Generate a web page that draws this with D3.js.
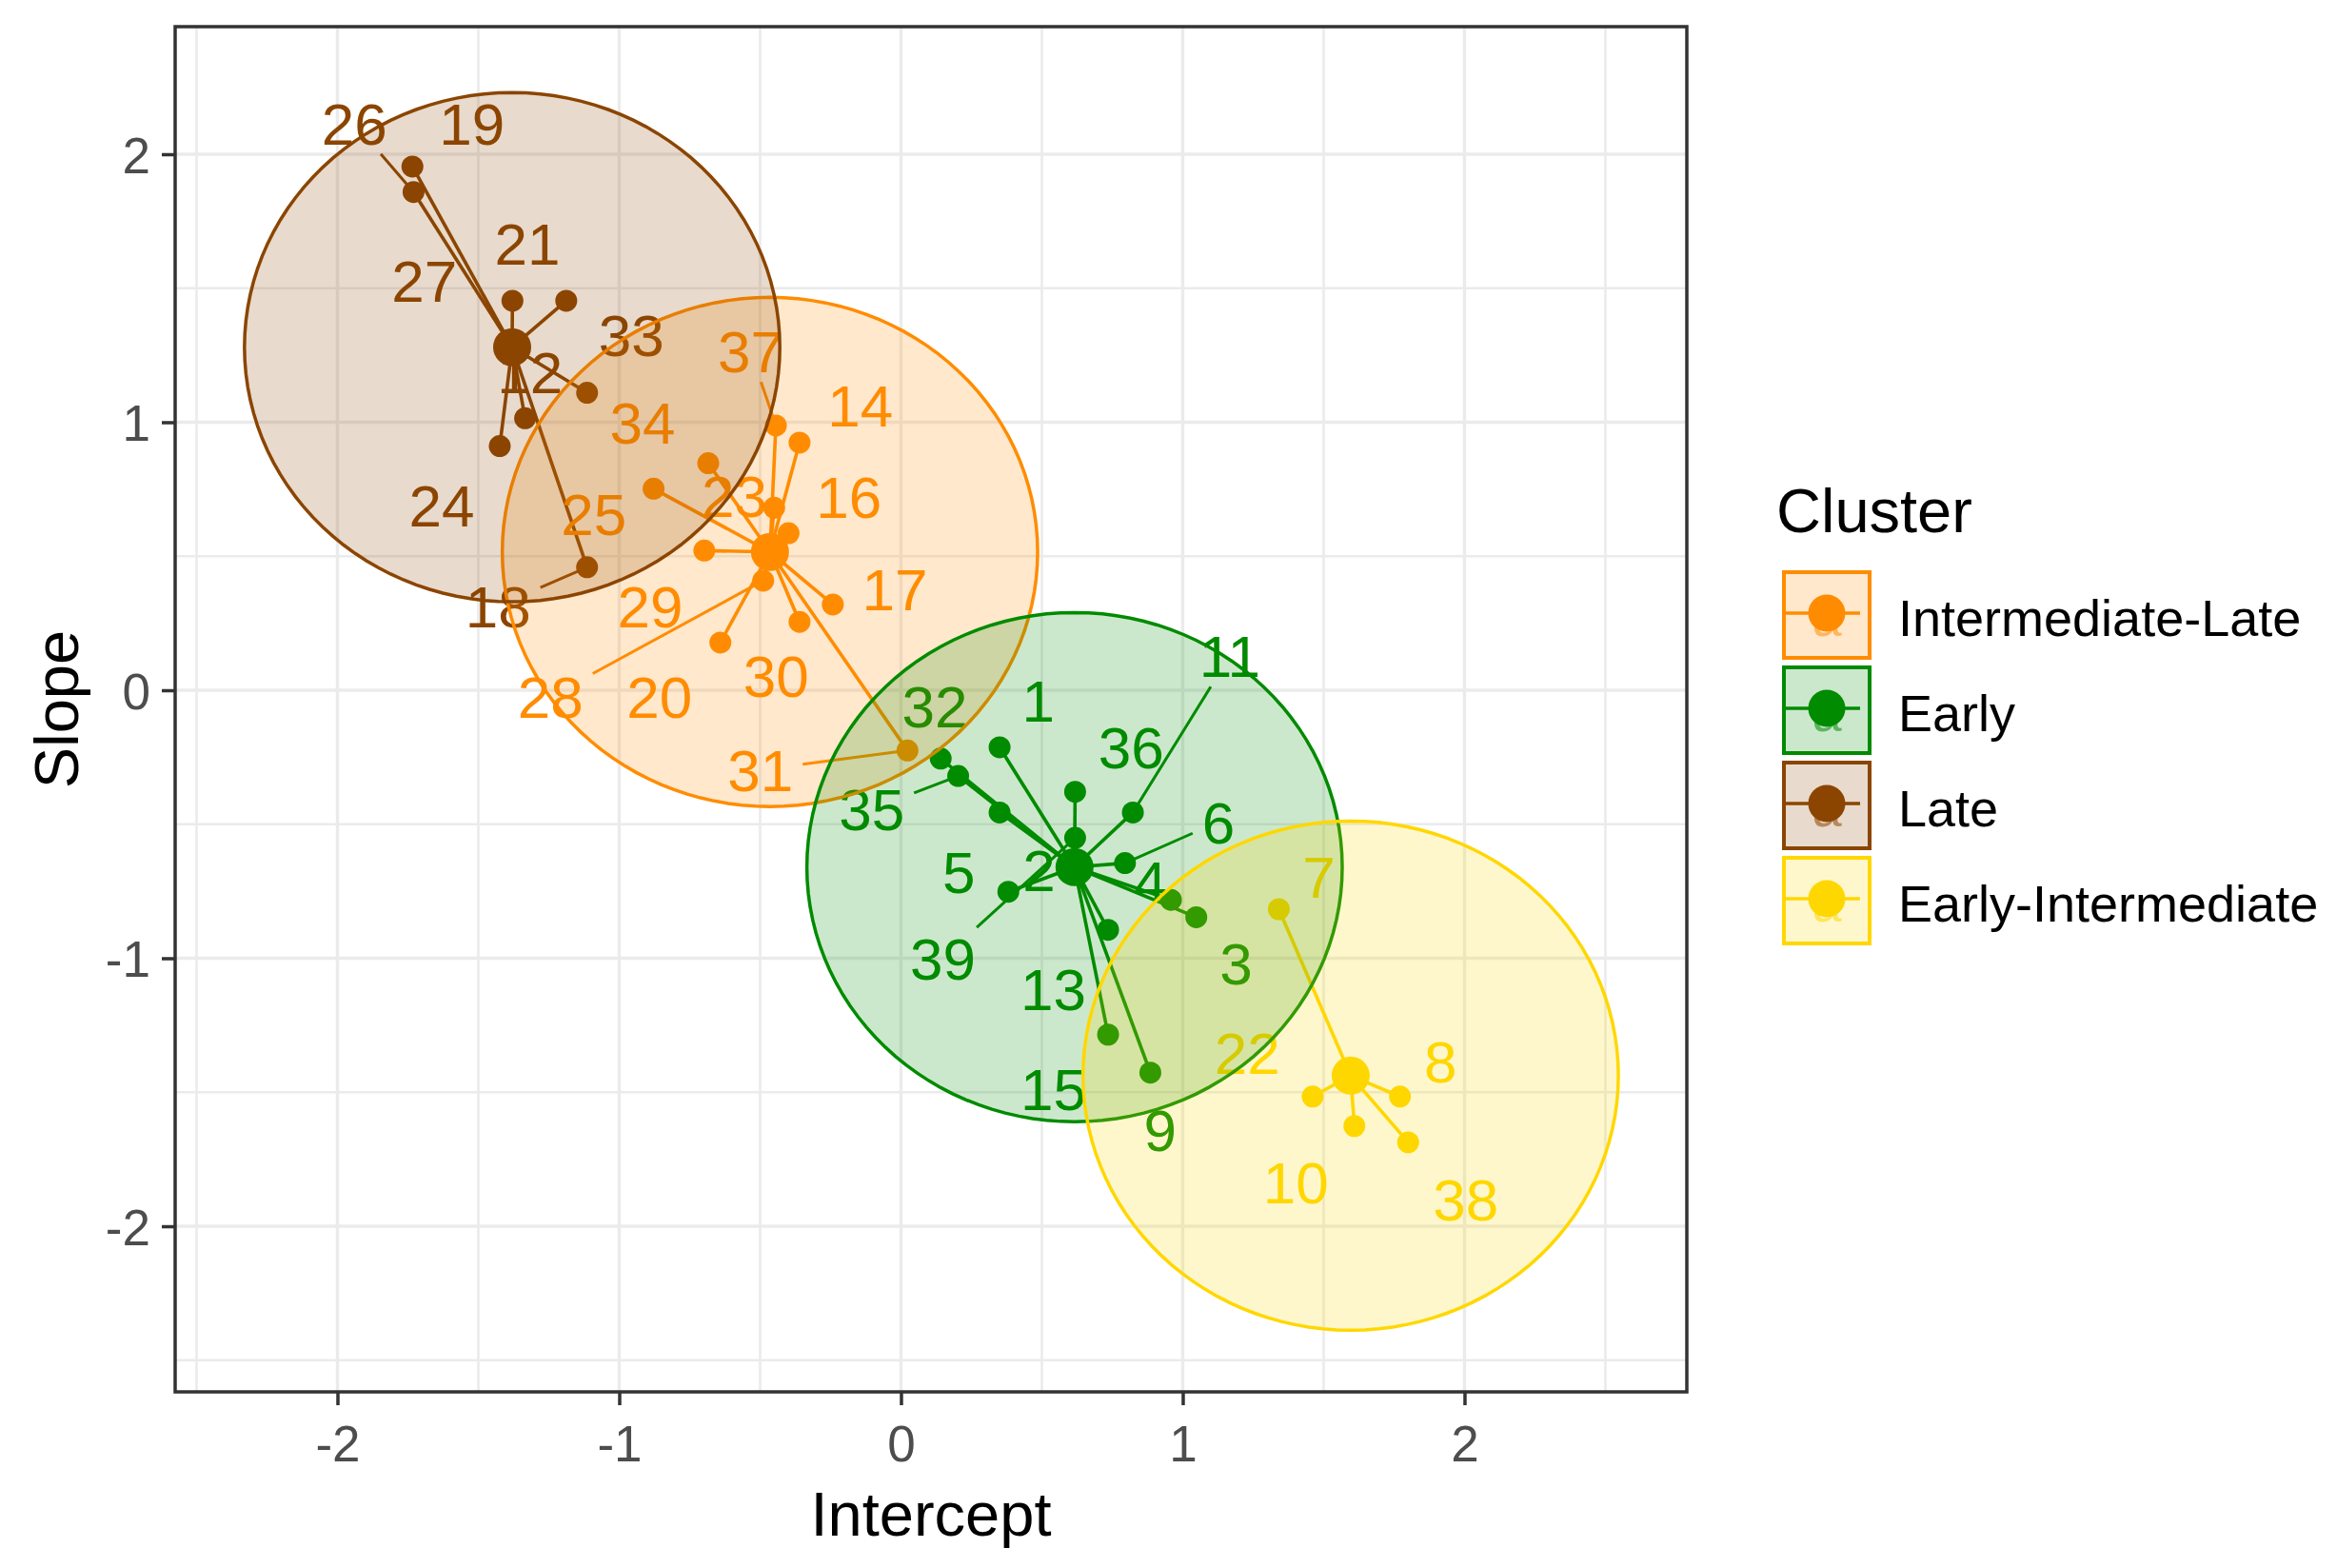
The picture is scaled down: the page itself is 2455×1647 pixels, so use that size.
<!DOCTYPE html>
<html><head><meta charset="utf-8">
<script src="https://cdn.jsdelivr.net/npm/d3@7"></script>
<style>
body{margin:0;background:#fff}
text{font-family:"Liberation Sans",Arial,sans-serif}
</style>
</head><body>
<svg id="chart" width="2455" height="1647"></svg>
<script>
// ---------------- data ----------------
const clusterNames  = ["Intermediate-Late","Early","Late","Early-Intermediate"];
const clusterColors = ["#FF8C00","#008B00","#8B4500","#FFD700"];
const centerX = [-0.465, 0.616, -1.380, 1.596];
const centerY = [ 0.516,-0.660,  1.280,-1.438];
const circleRadius = 0.95;

const pointId      = [37,14,34,25,23,16,29,28,17,30,20,31,
                      32,35,1,2,36,11,6,5,4,3,13,15,9,39,
                      19,26,21,33,12,27,24,18,
                      7,22,8,10,38];
const pointCluster = [0,0,0,0,0,0,0,0,0,0,0,0,
                      1,1,1,1,1,1,1,1,1,1,1,1,1,1,
                      2,2,2,2,2,2,2,2,
                      3,3,3,3,3];
const pointX = [-0.444,-0.360,-0.684,-0.878,-0.450,-0.399,-0.698,-0.489,-0.242,-0.360,-0.641, 0.023,
                 0.141, 0.203, 0.350, 0.350, 0.618, 0.823, 0.795, 0.381, 0.958, 1.048, 0.735, 0.735, 0.885, 0.618,
                -1.734,-1.730,-1.379,-1.188,-1.114,-1.334,-1.424,-1.114,
                 1.341, 1.461, 1.771, 1.609, 1.800];
const pointY = [ 0.988, 0.924, 0.847, 0.752, 0.681, 0.586, 0.521, 0.409, 0.320, 0.255, 0.178,-0.225,
                -0.255,-0.320,-0.213,-0.456,-0.379,-0.456,-0.645,-0.752,-0.782,-0.847,-0.894,-1.285,-1.427,-0.551,
                 1.954, 1.859, 1.453, 1.453, 1.110, 1.015, 0.911, 0.459,
                -0.817,-1.516,-1.516,-1.626,-1.687];
const labelX = [-0.534,-0.144,-0.917,-1.090,-0.591,-0.185,-0.890,-1.244,-0.022,-0.443,-0.857,-0.499,
                 0.120,-0.104, 0.487, 0.490, 0.817, 1.167, 1.127, 0.205, 0.885, 1.189, 0.541, 0.541, 0.920, 0.149,
                -1.523,-1.940,-1.326,-0.957,-1.317,-1.692,-1.630,-1.430,
                 1.483, 1.229, 1.915, 1.401, 2.004];
const labelY = [ 1.265, 1.063, 1.000, 0.660, 0.726, 0.722, 0.315,-0.024, 0.379, 0.053,-0.024,-0.297,
                -0.059,-0.444,-0.038,-0.669,-0.213, 0.128,-0.491,-0.677,-0.713,-1.018,-1.113,-1.486,-1.641,-1.000,
                 2.116, 2.116, 1.668, 1.326, 1.186, 1.529, 0.689, 0.314,
                -0.696,-1.351,-1.383,-1.836,-1.898];
const hasLeader = [1,0,0,0,0,0,0,1,0,0,0,1,
                   0,1,0,0,0,1,1,0,0,0,0,0,0,1,
                   0,1,0,0,0,0,0,1,
                   0,0,0,0,0];

const xTicks = [-2,-1,0,1,2];
const xTickLabels = ["-2","-1","0","1","2"];
const yTicks = [-2,-1,0,1,2];
const yTickLabels = ["-2","-1","0","1","2"];
const xMinor = [-2.5,-1.5,-0.5,0.5,1.5,2.5];
const yMinor = [-2.5,-1.5,-0.5,0.5,1.5];
const xDomain = [-2.576, 2.789];
const yDomain = [-2.618, 2.476];

// ---------------- drawing ----------------
const svg = d3.select("#chart");
const x = d3.scaleLinear().domain(xDomain).range([184, 1772]);
const y = d3.scaleLinear().domain(yDomain).range([1462, 28]);
const [L, R] = x.range(); const [B, T] = y.range();
const FONT = '"Liberation Sans",Arial,sans-serif';

svg.append("rect").attr("width",2455).attr("height",1647).attr("fill","#fff");

// grid
const grid = svg.append("g");
grid.selectAll("line.vmin").data(xMinor).join("line").attr("class","vmin")
  .attr("x1",d=>x(d)).attr("x2",d=>x(d)).attr("y1",T).attr("y2",B)
  .attr("stroke","#EBEBEB").attr("stroke-width",2.6);
grid.selectAll("line.hmin").data(yMinor).join("line").attr("class","hmin")
  .attr("y1",d=>y(d)).attr("y2",d=>y(d)).attr("x1",L).attr("x2",R)
  .attr("stroke","#EBEBEB").attr("stroke-width",2.6);
grid.selectAll("line.vmaj").data(xTicks).join("line").attr("class","vmaj")
  .attr("x1",d=>x(d)).attr("x2",d=>x(d)).attr("y1",T).attr("y2",B)
  .attr("stroke","#EBEBEB").attr("stroke-width",3.4);
grid.selectAll("line.hmaj").data(yTicks).join("line").attr("class","hmaj")
  .attr("y1",d=>y(d)).attr("y2",d=>y(d)).attr("x1",L).attr("x2",R)
  .attr("stroke","#EBEBEB").attr("stroke-width",3.4);

svg.append("clipPath").attr("id","pc").append("rect")
  .attr("x",L).attr("y",T).attr("width",R-L).attr("height",B-T);
const plot = svg.append("g").attr("clip-path","url(#pc)");
const idx = d3.range(pointId.length);
const col = i => clusterColors[pointCluster[i]];

// star segments
plot.append("g").selectAll("line").data(idx).join("line")
  .attr("x1",i=>x(centerX[pointCluster[i]])).attr("y1",i=>y(centerY[pointCluster[i]]))
  .attr("x2",i=>x(pointX[i])).attr("y2",i=>y(pointY[i]))
  .attr("stroke",col).attr("stroke-width",3.6);

// points
plot.append("g").selectAll("circle").data(idx).join("circle")
  .attr("cx",i=>x(pointX[i])).attr("cy",i=>y(pointY[i])).attr("r",11.5)
  .attr("fill",col);

// cluster centres
const cIdx = d3.range(clusterNames.length);
plot.append("g").selectAll("circle").data(cIdx).join("circle")
  .attr("cx",c=>x(centerX[c])).attr("cy",c=>y(centerY[c])).attr("r",20)
  .attr("fill",c=>clusterColors[c]);

// labels + leaders
const labG = plot.append("g");
const leadG = plot.append("g");
idx.forEach(i=>{
  const lx = x(labelX[i]), ly = y(labelY[i]);
  const t = labG.append("text").attr("x",lx).attr("y",ly).attr("dy","0.36em")
    .attr("text-anchor","middle").attr("font-size",62).attr("fill",col(i))
    .text(pointId[i]);
  if (hasLeader[i]) {
    const bb = t.node().getBBox();
    const px = x(pointX[i]), py = y(pointY[i]);
    const dx = px-lx, dy = py-ly;
    const hw = bb.width/2 + 10, hh = 0.36*62 + 10;
    const tt = Math.min(dx===0?1e9:hw/Math.abs(dx), dy===0?1e9:hh/Math.abs(dy));
    if (tt < 1) {
      leadG.append("line").attr("x1",lx+dx*tt).attr("y1",ly+dy*tt)
        .attr("x2",px).attr("y2",py).attr("stroke",col(i)).attr("stroke-width",3);
    }
  }
});

// circles (euclidean)
const ang = d3.range(0, 361, 3).map(a=>a*Math.PI/180);
plot.append("g").selectAll("path").data(cIdx).join("path")
  .attr("d",c=>d3.line()(ang.map(a=>[x(centerX[c]+circleRadius*Math.cos(a)), y(centerY[c]+circleRadius*Math.sin(a))])))
  .attr("fill",c=>clusterColors[c]).attr("fill-opacity",0.2)
  .attr("stroke",c=>clusterColors[c]).attr("stroke-width",3.5);

// panel border
svg.append("rect").attr("x",L).attr("y",T).attr("width",R-L).attr("height",B-T)
  .attr("fill","none").attr("stroke","#333333").attr("stroke-width",3.5);

// axes
const xAxis = svg.append("g").attr("transform",`translate(0,${B})`)
  .call(d3.axisBottom(x).tickValues(xTicks).tickFormat((d,i)=>xTickLabels[i]).tickSize(14).tickPadding(21));
const yAxis = svg.append("g").attr("transform",`translate(${L},0)`)
  .call(d3.axisLeft(y).tickValues(yTicks).tickFormat((d,i)=>yTickLabels[i]).tickSize(14).tickPadding(12));
[xAxis,yAxis].forEach(a=>{
  a.attr("font-size",53).attr("font-family",FONT);
  a.select(".domain").remove();
  a.selectAll(".tick line").attr("stroke","#333333").attr("stroke-width",3.5);
  a.selectAll(".tick text").attr("fill","#4D4D4D");
});
yAxis.selectAll(".tick text").attr("dy","0.36em");

// axis titles
svg.append("text").attr("x",(L+R)/2).attr("y",1613).attr("text-anchor","middle")
  .attr("font-size",65).attr("fill","#000").text("Intercept");
svg.append("text").attr("transform",`translate(82,${(T+B)/2}) rotate(-90)`)
  .attr("text-anchor","middle").attr("font-size",65).attr("fill","#000").text("Slope");

// legend
const lg = svg.append("g");
lg.append("text").attr("x",1866).attr("y",559).attr("font-size",65).attr("fill","#000").text("Cluster");
cIdx.forEach((c,k)=>{
  const cy = 646 + k*100, x0 = 1874, w = 90;
  const g = lg.append("g");
  g.append("rect").attr("x",x0).attr("y",cy-45).attr("width",w).attr("height",90)
    .attr("fill","#fff");
  g.append("rect").attr("x",x0).attr("y",cy-45).attr("width",w).attr("height",90)
    .attr("fill",clusterColors[c]).attr("fill-opacity",0.2)
    .attr("stroke",clusterColors[c]).attr("stroke-width",4);
  g.append("line").attr("x1",x0+1).attr("x2",x0+w-10).attr("y1",cy-2).attr("y2",cy-2)
    .attr("stroke",clusterColors[c]).attr("stroke-width",3.5);
  g.append("text").attr("x",x0+w/2).attr("y",cy+22).attr("text-anchor","middle")
    .attr("font-size",56).attr("fill",clusterColors[c]).attr("fill-opacity",0.55).text("a");
  g.append("circle").attr("cx",x0+w/2).attr("cy",cy-2).attr("r",19.5).attr("fill",clusterColors[c]);
  g.append("text").attr("x",1994).attr("y",cy+3).attr("dy","0.36em")
    .attr("font-size",54).attr("fill","#000").text(clusterNames[c]);
});
</script>
</body></html>
